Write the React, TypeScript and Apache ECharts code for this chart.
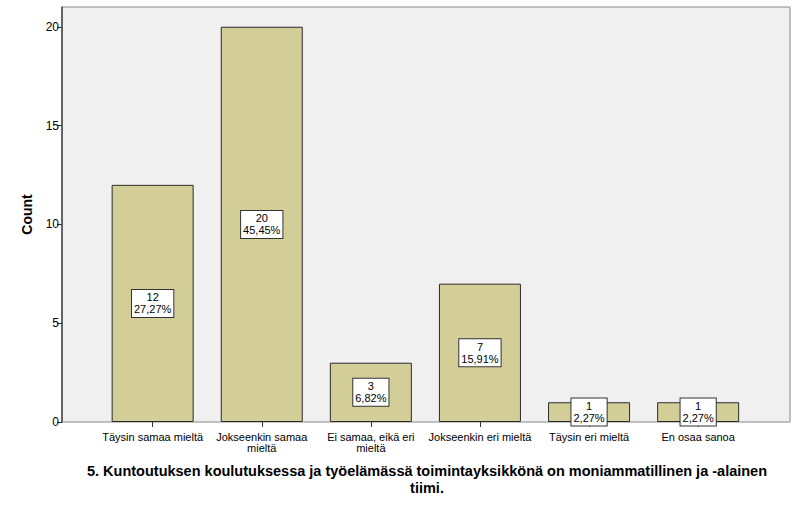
import React, { useEffect, useRef } from "react";
import * as echarts from "echarts";

const categories = [
  "Täysin samaa mieltä",
  "Jokseenkin samaa\nmieltä",
  "Ei samaa, eikä eri\nmieltä",
  "Jokseenkin eri mieltä",
  "Täysin eri mieltä",
  "En osaa sanoa",
];
const counts = [12, 20, 3, 7, 1, 1];
const percents = ["27,27%", "45,45%", "6,82%", "15,91%", "2,27%", "2,27%"];
const yTicks = [0, 5, 10, 15, 20];
const yMax = 21;
const xTitle =
  "5. Kuntoutuksen koulutuksessa ja työelämässä toimintayksikkönä on moniammatillinen ja -alainen\ntiimi.";
const yTitle = "Count";

const FONT = "'Liberation Sans', Arial, sans-serif";

export default function App() {
  const ref = useRef<HTMLDivElement>(null);
  useEffect(() => {
    if (!ref.current) return;
    const chart = echarts.init(ref.current, undefined, { renderer: "svg", width: 800, height: 508 });
    const top = 7;
    const height = 415;
    chart.setOption({
      animation: false,
      backgroundColor: "#ffffff",
      textStyle: { fontFamily: FONT },
      grid: [
        {
          left: 62,
          top,
          width: 728,
          height,
          show: true,
          backgroundColor: "#f0f0f0",
          borderColor: "#8a8a8a",
          borderWidth: 1,
        },
        {
          left: 98.1,
          top,
          width: 654.6,
          height,
        },
      ],
      xAxis: [
        { type: "value", gridIndex: 0, show: false, min: 0, max: 1 },
        {
          type: "category",
          gridIndex: 1,
          data: categories,
          axisLine: { show: false },
          axisTick: { show: true, alignWithLabel: true, length: 5, lineStyle: { color: "#333", width: 1 } },
          axisLabel: {
            color: "#000",
            fontSize: 11,
            fontFamily: FONT,
            margin: 9,
            lineHeight: 11,
            interval: 0,
          },
          splitLine: { show: false },
        },
      ],
      yAxis: [
        {
          type: "value",
          gridIndex: 0,
          min: 0,
          max: yMax,
          axisLine: { show: true, lineStyle: { color: "#444", width: 1.5 } },
          axisTick: { show: true, length: 5, customValues: yTicks, lineStyle: { color: "#333" } },
          axisLabel: { color: "#000", fontSize: 12, fontFamily: FONT, margin: 3, customValues: yTicks },
          splitLine: { show: false },
        },
        {
          type: "value",
          gridIndex: 1,
          min: 0,
          max: yMax,
          show: false,
        },
      ],
      series: [
        {
          type: "bar",
          xAxisIndex: 1,
          yAxisIndex: 1,
          data: counts,
          barWidth: 82,
          itemStyle: { color: "#d3ce98", borderColor: "#2a2a2a", borderWidth: 1 },
          label: {
            show: true,
            position: "inside",
            formatter: (p: any) => `${counts[p.dataIndex]}\n${percents[p.dataIndex]}`,
            color: "#000",
            fontSize: 11,
            fontFamily: FONT,
            lineHeight: 12,
            align: "center",
            backgroundColor: "#ffffff",
            borderColor: "#333",
            borderWidth: 1,
            padding: [2, 2, 1, 2],
          },
        },
      ],
      graphic: [
        {
          type: "text",
          x: 27,
          y: 214.5,
          rotation: Math.PI / 2,
          style: {
            text: yTitle,
            fill: "#000",
            font: `bold 14px ${FONT}`,
            textAlign: "center",
            textVerticalAlign: "middle",
          },
        },
        {
          type: "text",
          x: 427,
          y: 462,
          style: {
            text: xTitle,
            fill: "#000",
            font: `bold 14.5px ${FONT}`,
            textAlign: "center",
            textVerticalAlign: "top",
            lineHeight: 17,
          },
        },
      ],
    });
    return () => chart.dispose();
  }, []);
  return <div ref={ref} style={{ width: 800, height: 508, position: "absolute", left: 0, top: 0 }} />;
}
